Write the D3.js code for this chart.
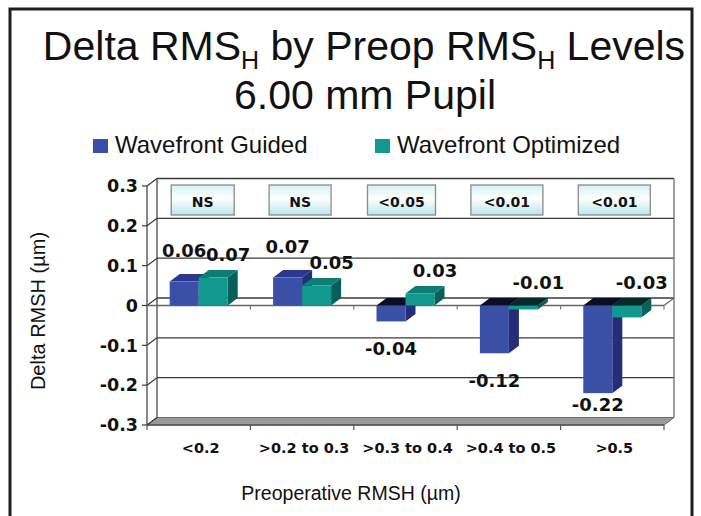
<!DOCTYPE html>
<html>
<head>
<meta charset="utf-8">
<script src="https://cdn.jsdelivr.net/npm/d3@7"></script>
<style>
  html, body { margin: 0; padding: 0; background: #fff; }
  svg { display: block; }
</style>
</head>
<body>
<svg id="chart" width="701" height="516"></svg>
<script>
// Chart data
const categories = ["<0.2", ">0.2 to 0.3", ">0.3 to 0.4", ">0.4 to 0.5", ">0.5"];
const seriesNames = ["Wavefront Guided", "Wavefront Optimized"];
const guided = [0.06, 0.07, -0.04, -0.12, -0.22];
const optimized = [0.07, 0.05, 0.03, -0.01, -0.03];
const pValues = ["NS", "NS", "<0.05", "<0.01", "<0.01"];
const yTicks = [0.3, 0.2, 0.1, 0, -0.1, -0.2, -0.3];
const yTickLabels = ["0.3", "0.2", "0.1", "0", "-0.1", "-0.2", "-0.3"];

const svg = d3.select("#chart");
const SANS = "'Liberation Sans', Arial, sans-serif";
const BOLD = "'DejaVu Sans', sans-serif";

// colours for each series: front, top, side faces
const palette = {
  "Wavefront Guided":    { front: "#3a4fa6", top: "#2a3890", side: "#242d78", topNeg: "#0c0f24" },
  "Wavefront Optimized": { front: "#12988f", top: "#0d7d75", side: "#07605a", topNeg: "#062a27" }
};

// 3D depth offset of the plot box
const DX = 10, DY = 7.5;

// scales (front plane)
const x = d3.scaleBand().domain(categories).range([147, 664]).padding(0);
const y = d3.scaleLinear().domain([-0.3, 0.3]).range([425, 186]);
const groupW = 58;
const xs = d3.scaleBand().domain(seriesNames).range([0, groupW]).padding(0);
const groupOffset = (x.bandwidth() - groupW) / 2;

// outer frame
svg.append("rect").attr("x", 10).attr("y", 9).attr("width", 682).attr("height", 520)
  .attr("fill", "#fff").attr("stroke", "#1e1e1e").attr("stroke-width", 3);

// title
const title = svg.append("text").attr("x", 364).attr("y", 60)
  .attr("text-anchor", "middle")
  .attr("font-family", SANS)
  .attr("font-size", 41).attr("fill", "#111");
const titleParts = [["Delta RMS", false], ["H", true], [" by Preop RMS", false], ["H", true], [" Levels", false]];
titleParts.forEach(([t, sub], i) => {
  const ts = title.append("tspan").text(t);
  if (sub) ts.attr("font-size", 25).attr("dy", 9);
  else if (i > 0) ts.attr("dy", -9);
});
svg.append("text").attr("x", 365).attr("y", 109)
  .attr("text-anchor", "middle")
  .attr("font-family", SANS)
  .attr("font-size", 41).attr("fill", "#111")
  .text("6.00 mm Pupil");

// legend
const legendX = [93, 375];
seriesNames.forEach((s, i) => {
  svg.append("rect").attr("x", legendX[i]).attr("y", 139).attr("width", 15).attr("height", 14)
    .attr("fill", palette[s].front);
  svg.append("text").attr("x", legendX[i] + 22).attr("y", 153)
    .attr("font-family", SANS)
    .attr("font-size", 24).attr("fill", "#111")
    .text(s);
});

const gridColor = "#3a3a3a";
const x0 = x.range()[0], x1 = x.range()[1];
const yTop = y(0.3), yBot = y(-0.3);

// floor (at -0.3)
svg.append("path")
  .attr("d", `M${x0},${yBot} L${x1},${yBot} L${x1 + DX},${yBot - DY} L${x0 + DX},${yBot - DY} Z`)
  .attr("fill", "#9a9a9a").attr("stroke", "#6a6a6a").attr("stroke-width", 1);
svg.append("line").attr("x1", x0).attr("x2", x1).attr("y1", yBot).attr("y2", yBot)
  .attr("stroke", "#555").attr("stroke-width", 1.5);

// back wall gridlines
svg.append("g").selectAll("line").data(yTicks.filter(d => d > -0.3)).join("line")
  .attr("x1", x0 + DX).attr("x2", x1 + DX)
  .attr("y1", d => y(d) - DY).attr("y2", d => y(d) - DY)
  .attr("stroke", gridColor).attr("stroke-width", 1.4);

// back wall edges
svg.append("line").attr("x1", x0 + DX).attr("x2", x0 + DX).attr("y1", yTop - DY).attr("y2", yBot - DY)
  .attr("stroke", gridColor).attr("stroke-width", 1.2);
svg.append("line").attr("x1", x1 + DX).attr("x2", x1 + DX).attr("y1", yTop - DY).attr("y2", yBot - DY)
  .attr("stroke", "#777").attr("stroke-width", 1.4);

// side wall: front edge, diagonals and ticks
svg.append("line").attr("x1", x0).attr("x2", x0).attr("y1", yTop).attr("y2", yBot)
  .attr("stroke", gridColor).attr("stroke-width", 1.2);
svg.append("g").selectAll("line").data(yTicks).join("line")
  .attr("x1", x0).attr("x2", x0 + DX)
  .attr("y1", d => y(d)).attr("y2", d => y(d) - DY)
  .attr("stroke", gridColor).attr("stroke-width", 1.2);
svg.append("g").selectAll("line").data(yTicks).join("line")
  .attr("x1", x0 - 5).attr("x2", x0)
  .attr("y1", d => y(d)).attr("y2", d => y(d))
  .attr("stroke", gridColor).attr("stroke-width", 1.2);

// y tick labels
svg.append("g").selectAll("text").data(yTicks).join("text")
  .attr("x", 138).attr("y", d => y(d))
  .attr("dy", "0.36em")
  .attr("text-anchor", "end")
  .attr("font-family", BOLD).attr("font-weight", "bold")
  .attr("font-size", 17.5).attr("fill", "#111")
  .text((d, i) => yTickLabels[i]);

// category axis line at zero, with ticks at band edges
const y0 = y(0);
const edges = categories.map(c => x(c)).concat([x1]);
svg.append("line").attr("x1", x0).attr("x2", x1).attr("y1", y0).attr("y2", y0)
  .attr("stroke", "#666").attr("stroke-width", 1.4);
svg.append("line").attr("x1", x1).attr("x2", x1 + DX).attr("y1", y0).attr("y2", y0 - DY)
  .attr("stroke", "#666").attr("stroke-width", 1.2);
svg.append("g").selectAll("line").data(edges.slice(1)).join("line")
  .attr("x1", d => d).attr("x2", d => d).attr("y1", y0).attr("y2", y0 + 4)
  .attr("stroke", "#777").attr("stroke-width", 1.2);
// ticks under the floor
svg.append("g").selectAll("line").data(edges).join("line")
  .attr("x1", d => d).attr("x2", d => d).attr("y1", yBot).attr("y2", yBot + 5)
  .attr("stroke", "#555").attr("stroke-width", 1.2);

// significance boxes
const defs = svg.append("defs");
const grad = defs.append("linearGradient").attr("id", "boxFill")
  .attr("x1", 0).attr("y1", 0).attr("x2", 0).attr("y2", 1);
grad.append("stop").attr("offset", "0%").attr("stop-color", "#d4f1f4");
grad.append("stop").attr("offset", "45%").attr("stop-color", "#ffffff");
grad.append("stop").attr("offset", "100%").attr("stop-color", "#b9e6ec");
const boxW = [63, 62, 68, 72, 72];
const boxShift = [4, -2, -4, -2, 2];
const boxG = svg.append("g").selectAll("g").data(pValues).join("g");
boxG.append("rect")
  .attr("x", (d, i) => x(categories[i]) + x.bandwidth() / 2 + boxShift[i] - boxW[i] / 2)
  .attr("y", 185).attr("width", (d, i) => boxW[i]).attr("height", 30)
  .attr("fill", "url(#boxFill)").attr("stroke", "#8a8a8a").attr("stroke-width", 1.3);
boxG.append("text")
  .attr("x", (d, i) => x(categories[i]) + x.bandwidth() / 2 + boxShift[i])
  .attr("y", 207).attr("text-anchor", "middle")
  .attr("font-family", BOLD).attr("font-weight", "bold")
  .attr("font-size", 14).attr("fill", "#111")
  .text(d => d);

// 3D bars
const barData = [];
categories.forEach((c, i) => {
  barData.push({ cat: c, s: seriesNames[0], v: guided[i] });
  barData.push({ cat: c, s: seriesNames[1], v: optimized[i] });
});
const bars = svg.append("g").selectAll("g").data(barData).join("g");
bars.each(function (d) {
  const g = d3.select(this);
  const bx0 = x(d.cat) + groupOffset + xs(d.s);
  const bx1 = bx0 + xs.bandwidth();
  const yv = y(d.v);
  const top = Math.min(yv, y0), bot = Math.max(yv, y0);
  const col = palette[d.s];
  // side face
  g.append("path")
    .attr("d", `M${bx1},${top} L${bx1 + DX},${top - DY} L${bx1 + DX},${bot - DY} L${bx1},${bot} Z`)
    .attr("fill", col.side);
  // front face
  g.append("rect").attr("x", bx0).attr("y", top).attr("width", bx1 - bx0).attr("height", bot - top)
    .attr("fill", col.front);
  // top face
  g.append("path")
    .attr("d", `M${bx0},${top} L${bx1},${top} L${bx1 + DX},${top - DY} L${bx0 + DX},${top - DY} Z`)
    .attr("fill", d.v >= 0 ? col.top : col.topNeg);
});

// value labels: guided above/below its bar end (kept inside the plot),
// optimized always above the bar top
const labelG = svg.append("g");
barData.forEach(d => {
  const isGuided = d.s === seriesNames[0];
  const bx = x(d.cat) + groupOffset + xs(d.s) + xs.bandwidth() / 2;
  let lx, ly;
  if (isGuided) {
    lx = bx;
    ly = d.v >= 0 ? y(d.v) - 31 : Math.min(y(d.v) + 27, yBot - 20);
  } else {
    lx = bx + 15;
    ly = Math.min(y(d.v), y0) - 23;
  }
  labelG.append("text").attr("x", lx).attr("y", ly).attr("dy", "0.36em")
    .attr("text-anchor", "middle")
    .attr("font-family", BOLD).attr("font-weight", "bold")
    .attr("font-size", 18).attr("fill", "#111")
    .text(d3.format(".2f")(d.v).replace("−", "-"));
});

// category labels
svg.append("g").selectAll("text").data(categories).join("text")
  .attr("x", d => x(d) + x.bandwidth() / 2 + 2).attr("y", 453)
  .attr("text-anchor", "middle")
  .attr("font-family", BOLD).attr("font-weight", "bold")
  .attr("font-size", 14.5).attr("fill", "#111")
  .text(d => d);

// axis titles
svg.append("text").attr("x", 351).attr("y", 500).attr("text-anchor", "middle")
  .attr("font-family", SANS)
  .attr("font-size", 19.5).attr("fill", "#111")
  .text("Preoperative RMSH (µm)");
svg.append("text").attr("transform", "translate(45,311) rotate(-90)")
  .attr("text-anchor", "middle")
  .attr("font-family", SANS)
  .attr("font-size", 20).attr("fill", "#111")
  .text("Delta RMSH (µm)");
</script>
</body>
</html>
